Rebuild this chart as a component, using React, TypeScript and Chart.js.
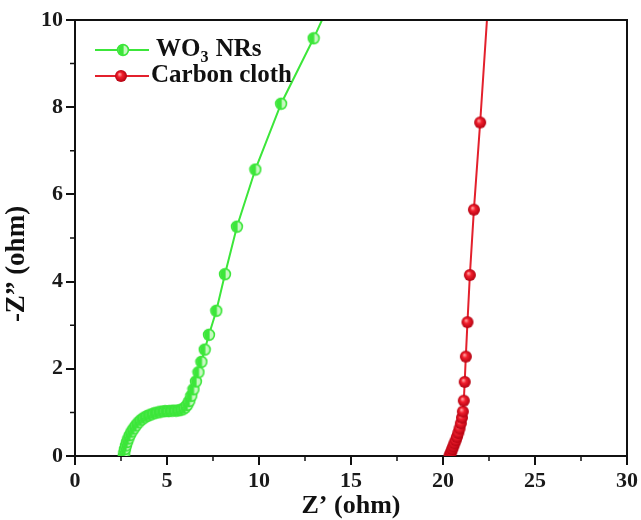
import React, { useEffect, useRef } from 'react';
import { Chart, registerables } from 'chart.js';

Chart.register(...registerables);

// WO3 NRs series (Z', -Z'')
const wo3X = [2.65, 2.68, 2.72, 2.77, 2.83, 2.9, 2.98, 3.08, 3.19, 3.31, 3.45, 3.6, 3.76, 3.93, 4.11, 4.3, 4.5, 4.7, 4.9, 5.1, 5.3, 5.5, 5.68, 5.84, 5.98, 6.1, 6.21, 6.32, 6.44, 6.57, 6.71, 6.87, 7.05, 7.28, 7.68, 8.15, 8.8, 9.8, 11.2, 12.97, 13.75];
const wo3Y = [0.0, 0.08, 0.16, 0.24, 0.32, 0.4, 0.48, 0.56, 0.63, 0.7, 0.77, 0.83, 0.88, 0.92, 0.95, 0.98, 1.0, 1.02, 1.03, 1.03, 1.04, 1.04, 1.05, 1.07, 1.11, 1.17, 1.26, 1.38, 1.53, 1.71, 1.92, 2.16, 2.44, 2.78, 3.33, 4.17, 5.26, 6.57, 8.08, 9.58, 10.3];

// Carbon cloth series
const ccX = [20.35, 20.4, 20.45, 20.5, 20.56, 20.62, 20.69, 20.76, 20.83, 20.9, 20.97, 21.03, 21.08, 21.13, 21.18, 21.24, 21.33, 21.46, 21.68, 22.02, 22.42];
const ccY = [0.0, 0.05, 0.1, 0.16, 0.22, 0.29, 0.36, 0.44, 0.53, 0.63, 0.75, 0.88, 1.02, 1.27, 1.7, 2.28, 3.07, 4.15, 5.65, 7.65, 10.2];

const seriesLabels = ['WO3 NRs', 'Carbon cloth'];
const xTicks = [0, 5, 10, 15, 20, 25, 30];
const yTicks = [0, 2, 4, 6, 8, 10];
const xMinorTicks = [2.5, 7.5, 12.5, 17.5, 22.5, 27.5];
const yMinorTicks = [1, 3, 5, 7, 9];

const GREEN = '#3ce63a';
const RED = '#e3202c';
const AXIS = '#111111';
const FONT = '"Liberation Serif", "Times New Roman", serif';

function makeGreenMarker(): HTMLCanvasElement {
  const c = document.createElement('canvas');
  c.width = 14; c.height = 14;
  const g = c.getContext('2d')!;
  const r = 5.4;
  g.fillStyle = '#c8f8c2';
  g.beginPath(); g.arc(7, 7, r, 0, Math.PI * 2); g.fill();
  g.fillStyle = GREEN;
  g.beginPath(); g.moveTo(7.6, 7); g.arc(7.6, 7, r, Math.PI / 2, Math.PI * 1.5); g.closePath(); g.fill();
  g.strokeStyle = GREEN; g.lineWidth = 1.6;
  g.beginPath(); g.arc(7, 7, r, 0, Math.PI * 2); g.stroke();
  return c;
}

function makeRedMarker(): HTMLCanvasElement {
  const c = document.createElement('canvas');
  c.width = 14; c.height = 14;
  const g = c.getContext('2d')!;
  const grad = g.createRadialGradient(5.5, 5.2, 0.5, 7, 7, 6.2);
  grad.addColorStop(0, '#ff9a9a');
  grad.addColorStop(0.35, '#f2202e');
  grad.addColorStop(1, '#b0000f');
  g.fillStyle = grad;
  g.beginPath(); g.arc(7, 7, 6, 0, Math.PI * 2); g.fill();
  return c;
}

export default function App() {
  const ref = useRef<HTMLCanvasElement | null>(null);

  useEffect(() => {
    if (!ref.current) return;
    const greenImg = makeGreenMarker();
    const redImg = makeRedMarker();

    const decor = {
      id: 'decor',
      afterDraw(chart: any) {
        const { ctx, chartArea: a, scales } = chart;
        const xs = scales.x, ys = scales.y;
        ctx.save();
        // frame top/right
        ctx.strokeStyle = AXIS;
        ctx.lineWidth = 2;
        ctx.beginPath();
        ctx.moveTo(a.left - 1, a.top);
        ctx.lineTo(a.right, a.top);
        ctx.lineTo(a.right, a.bottom);
        ctx.stroke();
        // minor ticks
        ctx.lineWidth = 1.5;
        ctx.beginPath();
        for (const v of xMinorTicks) {
          const px = xs.getPixelForValue(v);
          ctx.moveTo(px, a.bottom);
          ctx.lineTo(px, a.bottom + 5);
        }
        for (const v of yMinorTicks) {
          const py = ys.getPixelForValue(v);
          ctx.moveTo(a.left - 5, py);
          ctx.lineTo(a.left, py);
        }
        ctx.stroke();
        // y title
        ctx.save();
        ctx.translate(17, 264);
        ctx.rotate(-Math.PI / 2);
        ctx.fillStyle = AXIS;
        ctx.font = `bold 27px ${FONT}`;
        ctx.textAlign = 'center';
        ctx.textBaseline = 'middle';
        ctx.fillText('-Z\u201D (ohm)', 0, 0);
        ctx.restore();
        // legend
        const rows = [
          { y: 50, color: GREEN, img: greenImg, mx: 123 },
          { y: 76, color: RED, img: redImg, mx: 121 },
        ];
        rows.forEach((r, i) => {
          ctx.strokeStyle = r.color;
          ctx.lineWidth = 2;
          ctx.beginPath();
          ctx.moveTo(95, r.y);
          ctx.lineTo(149, r.y);
          ctx.stroke();
          ctx.drawImage(r.img, r.mx - 7, r.y - 7);
          ctx.fillStyle = AXIS;
          ctx.textAlign = 'left';
          ctx.textBaseline = 'middle';
          let tx = i === 0 ? 156 : 151;
          const label = seriesLabels[i];
          if (label.startsWith('WO3')) {
            ctx.font = `bold 25px ${FONT}`;
            ctx.fillText('WO', tx, r.y);
            tx += ctx.measureText('WO').width;
            ctx.font = `bold 16px ${FONT}`;
            ctx.fillText('3', tx, r.y + 8);
            tx += ctx.measureText('3').width + 1;
            ctx.font = `bold 25px ${FONT}`;
            ctx.fillText(label.slice(3), tx, r.y);
          } else {
            ctx.font = `bold 25px ${FONT}`;
            ctx.fillText(label, tx, r.y);
          }
        });
        ctx.restore();
      },
    };

    const tickFont = { family: FONT, size: 22, weight: 'bold' as const };

    const chart = new Chart(ref.current, {
      type: 'scatter',
      data: {
        datasets: [
          {
            label: seriesLabels[0],
            data: wo3X.map((x, i) => ({ x, y: wo3Y[i] })),
            showLine: true,
            borderColor: GREEN,
            borderWidth: 2,
            pointStyle: greenImg as any,
            pointRadius: 6,
          },
          {
            label: seriesLabels[1],
            data: ccX.map((x, i) => ({ x, y: ccY[i] })),
            showLine: true,
            borderColor: RED,
            borderWidth: 2,
            pointStyle: redImg as any,
            pointRadius: 6,
          },
        ],
      },
      options: {
        responsive: false,
        animation: false,
        events: [],
        layout: { padding: { top: 20, right: 14, left: 0, bottom: 0 } },
        plugins: { legend: { display: false }, tooltip: { enabled: false } },
        scales: {
          x: {
            type: 'linear',
            min: 0,
            max: 30,
            afterBuildTicks: (s: any) => { s.ticks = xTicks.map((v) => ({ value: v })); },
            afterFit: (s: any) => { s.height = 64; },
            ticks: { font: tickFont, color: '#1a1a1a', padding: 3, maxRotation: 0, autoSkip: false },
            grid: { drawOnChartArea: false, drawTicks: true, tickLength: 9, color: AXIS, lineWidth: 2 },
            border: { display: true, color: AXIS, width: 2 },
            title: {
              display: true,
              text: 'Z\u2019 (ohm)',
              color: AXIS,
              font: { family: FONT, size: 26, weight: 'bold' },
              padding: { top: 0, bottom: -2 },
            },
          },
          y: {
            type: 'linear',
            min: 0,
            max: 10,
            afterBuildTicks: (s: any) => { s.ticks = yTicks.map((v) => ({ value: v })); },
            afterFit: (s: any) => { s.width = 75; },
            ticks: { font: tickFont, color: '#1a1a1a', padding: 3, autoSkip: false },
            grid: { drawOnChartArea: false, drawTicks: true, tickLength: 9, color: AXIS, lineWidth: 2 },
            border: { display: true, color: AXIS, width: 2 },
          },
        },
      },
      plugins: [decor],
    });
    return () => chart.destroy();
  }, []);

  return (
    <div style={{ position: 'absolute', left: 0, top: 0, width: 641, height: 520, background: '#fff' }}>
      <canvas ref={ref} width={641} height={520} />
    </div>
  );
}
